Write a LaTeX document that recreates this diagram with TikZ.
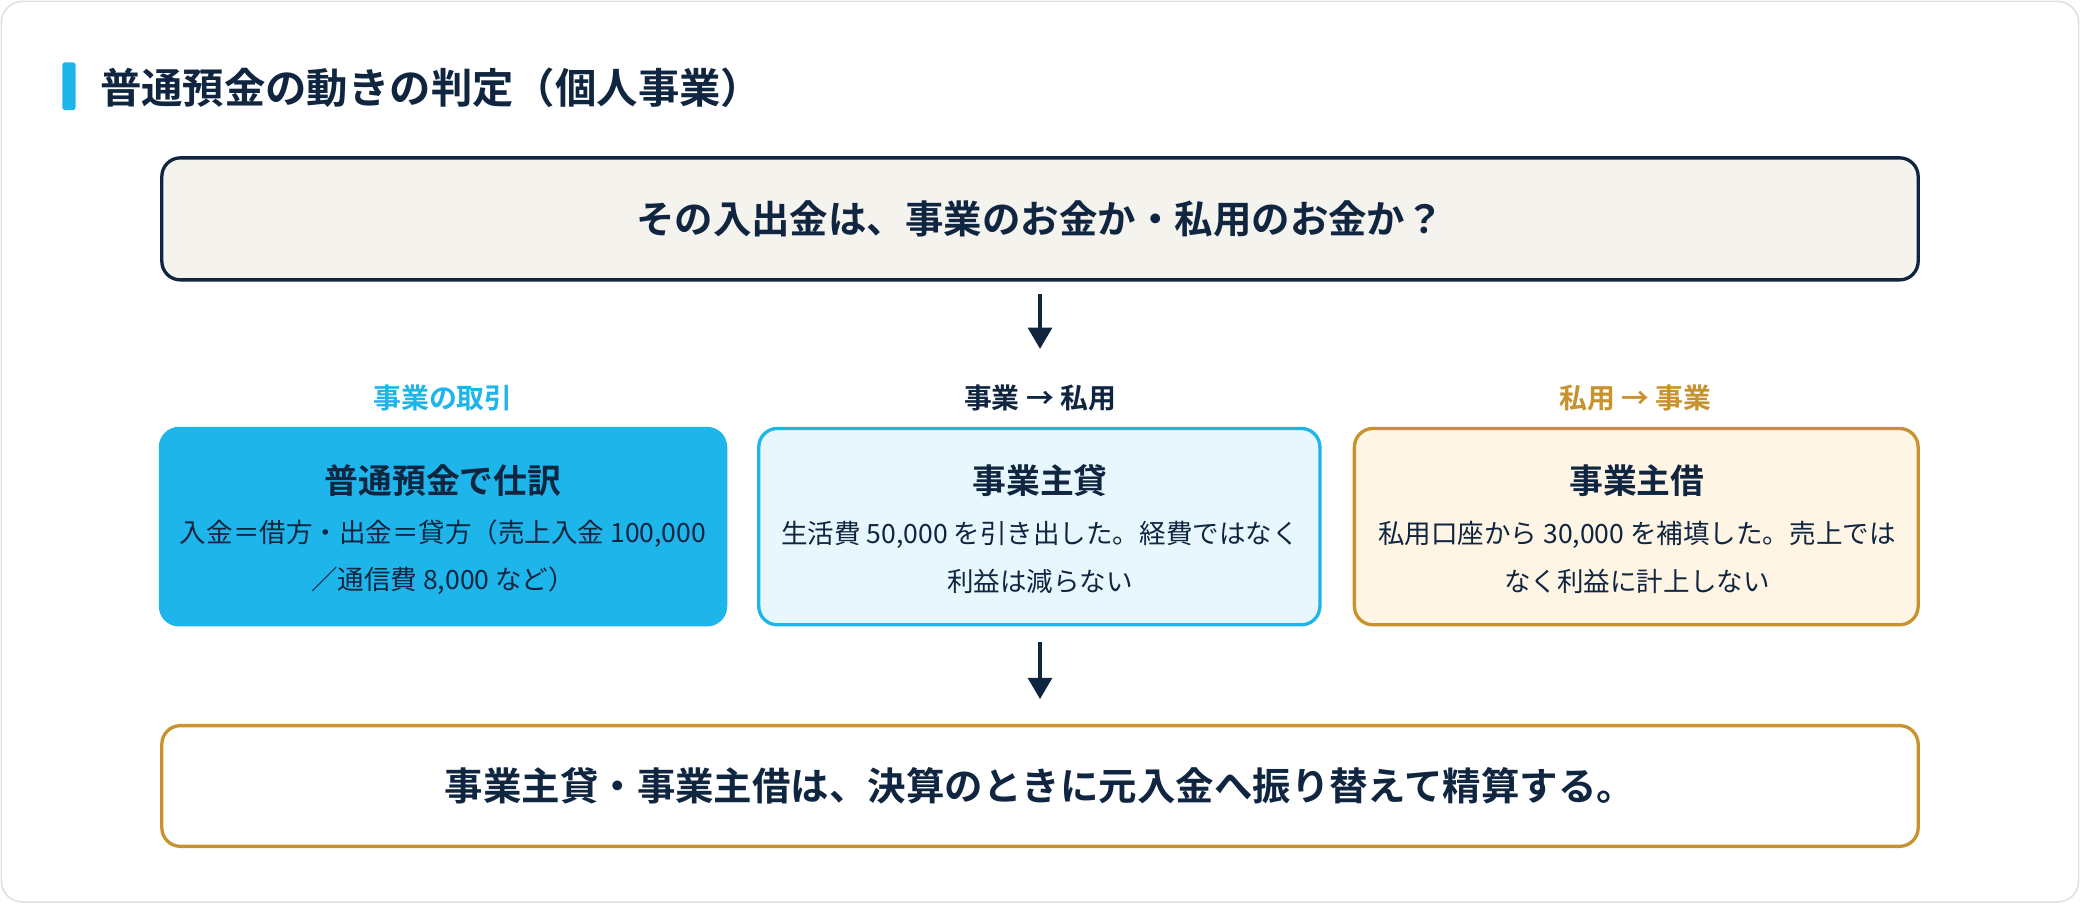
\documentclass[tikz,border=0pt]{standalone}
\usepackage{fontspec}
\setmainfont{Noto Sans CJK JP}[BoldFont={Noto Sans CJK JP Bold}]
\usetikzlibrary{arrows.meta}
\definecolor{navy}{HTML}{0F2540}
\definecolor{sky}{HTML}{1EB5EA}
\definecolor{gold}{HTML}{C8922E}
\definecolor{cream}{HTML}{F5F3EE}
\definecolor{lsky}{HTML}{E8F7FD}
\definecolor{lgold}{HTML}{FFF5E5}
\begin{document}
\begin{tikzpicture}[x=0.5pt,y=-0.5pt,
 box/.style={draw, line width=1.25pt, rounded corners=7pt, inner sep=0pt, text=navy, align=center},
 arr/.style={draw=navy, line width=1.25pt, -{Triangle[width=9pt,length=8pt]}},
 lab/.style={font=\bfseries\fontsize{10.5}{12}\selectfont},
 btitle/.style={font=\bfseries\fontsize{12.75}{15}\selectfont},
 btext/.style={font=\fontsize{10}{18}\selectfont}]
\useasboundingbox (0,0) rectangle (1568,681);
\draw[draw=black!12, fill=white, line width=0.6pt, rounded corners=8pt] (1,1) rectangle (1567,680);
\fill[sky, rounded corners=1pt] (47,47) rectangle (57,83);
\node[anchor=west, inner sep=0pt, text=navy, font=\bfseries\fontsize{15.6}{18}\selectfont] (title) at (75,66) {普通預金の動きの判定（個人事業）};
\node[box, draw=navy, fill=cream, minimum width=662pt, minimum height=46pt, font=\bfseries\fontsize{14.5}{16}\selectfont] (top) at (784,165) {その入出金は、事業のお金か・私用のお金か？};
\coordinate (a1s) at (784,222); \coordinate (a1e) at (784,263);
\draw[arr] (a1s) -- (a1e);
\node[lab, text=sky] (l1) at (334,300) {事業の取引};
\node[lab, text=navy] (l2) at (784,300) {事業 → 私用};
\node[lab, text=gold] (l3) at (1233,300) {私用 → 事業};
\node[box, draw=sky, fill=sky, minimum width=213pt, minimum height=74pt] (b1) at (334,397) {};
\node[btitle, text=navy] at (334,362) {普通預金で仕訳};
\node[btext, text=navy, align=center] at (334,420) {入金＝借方・出金＝貸方（売上入金 100,000\\／通信費 8,000 など）};
\node[box, draw=sky, fill=lsky, minimum width=211.5pt, minimum height=74pt] (b2) at (783.5,397) {};
\node[btitle, text=navy] at (784,362) {事業主貸};
\node[btext, text=navy, align=center] at (784,420) {生活費 50,000 を引き出した。経費ではなく\\利益は減らない};
\node[box, draw=gold, fill=lgold, minimum width=212.5pt, minimum height=74pt] (b3) at (1233.5,397) {};
\node[btitle, text=navy] at (1234,362) {事業主借};
\node[btext, text=navy, align=center] at (1234,420) {私用口座から 30,000 を補填した。売上では\\なく利益に計上しない};
\coordinate (a2s) at (784,484); \coordinate (a2e) at (784,527);
\draw[arr] (a2s) -- (a2e);
\node[box, draw=gold, fill=white, minimum width=662pt, minimum height=45.5pt, font=\bfseries\fontsize{14.5}{16}\selectfont] (bot) at (784,592.5) {事業主貸・事業主借は、決算のときに元入金へ振り替えて精算する。};
\end{tikzpicture}
\end{document}
